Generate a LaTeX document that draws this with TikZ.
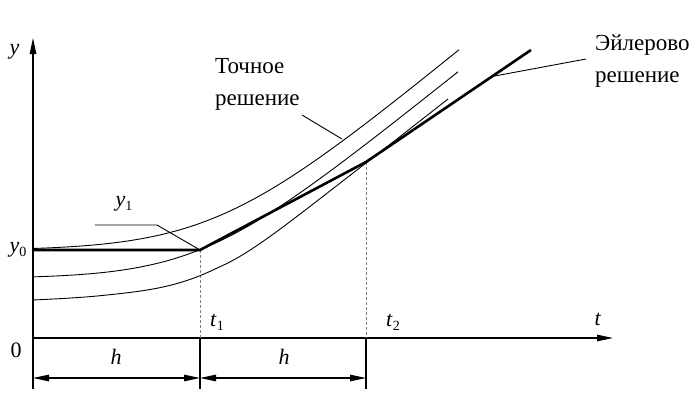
\documentclass[tikz,border=0pt]{standalone}
\usepackage{fontspec}
\setmainfont{Liberation Serif}
\usetikzlibrary{arrows.meta}
\newcommand\lowsub[1]{\raisebox{-4pt}{\fontsize{14}{14}\selectfont #1}}
\begin{document}
\begin{tikzpicture}[x=1pt,y=-1pt,
  axis/.style={line width=1.2pt},
  curve/.style={line width=0.9pt},
  euler/.style={line width=2.6pt, line join=miter},
  guide/.style={gray, line width=0.6pt, dash pattern=on 3pt off 2pt},
  leader/.style={line width=0.9pt},
  tip/.tip={Triangle[length=16pt,width=6.5pt]},
  dimline/.style={line width=1.1pt, tip-tip},
  lbl/.style={font=\fontsize{22}{26}\selectfont, inner sep=0pt},
  rus/.style={font=\fontsize{23}{28}\selectfont, inner sep=0pt, anchor=base west}]
\useasboundingbox (0,0) rectangle (697,402);
% key points
\coordinate (O) at (33,338);
\coordinate (Ybot) at (33,389);
\coordinate (Ytop) at (33,38);
\coordinate (Tend) at (613,338);
\coordinate (E0) at (33,250);
\coordinate (E1) at (200,250);
\coordinate (E2) at (366,162);
\coordinate (E3) at (531,50);
\coordinate (T1) at (200,338);
\coordinate (T2) at (366,338);
\coordinate (T1b) at (200,389);
\coordinate (T2b) at (366,389);
\coordinate (D0) at (33,378);
\coordinate (D1) at (200,378);
\coordinate (D2) at (366,378);
% axes
\draw[axis, -tip] (Ybot) -- (Ytop);
\draw[axis, -tip] (O) -- (Tend);
% guides
\draw[guide] (E1) -- (T1);
\draw[guide] (E2) -- (T2);
\draw[axis] (T1) -- (T1b);
\draw[axis] (T2) -- (T2b);
% dimension arrows
\draw[dimline] (D0) -- (D1);
\draw[dimline] (D1) -- (D2);
% exact solution curves
\draw[curve] plot[domain=33:459, samples=90, smooth] (\x, {250.5-47.56*ln(1+exp((\x-215)/58))});
\draw[curve] plot[domain=33:458, samples=90, smooth] (\x, {278.5-41.6*ln(1+exp((\x-200)/52))});
\draw[curve] plot[smooth, tension=0.6] coordinates {(33,300) (97,296) (163,287) (213,270) (265,240) (366,163) (448,99)};
% Euler polyline
\draw[euler] (E0) -- (E1) -- (E2) -- (E3);
% leaders
\coordinate (L1a) at (95,225);
\coordinate (L1b) at (157,225);
\draw[leader] (L1a) -- (L1b) -- (E1);
\coordinate (L2a) at (302,115);
\coordinate (L2b) at (342,139);
\draw[leader] (L2a) -- (L2b);
\coordinate (L3a) at (492,76.5);
\coordinate (L3b) at (586,59);
\draw[leader] (L3a) -- (L3b);
% labels
\node[lbl] (ylab) at (14.5,52) {\textit{y}};
\node[lbl] (y0lab) at (18,250) {\textit{y}\lowsub{0}};
\node[lbl] (y1lab) at (124,204) {\textit{y}\lowsub{1}};
\node[lbl] (zero) at (16,350) {0};
\node[lbl] (t1lab) at (217,322) {\textit{t}\lowsub{1}};
\node[lbl] (t2lab) at (393,322) {\textit{t}\lowsub{2}};
\node[lbl] (tlab) at (598,319) {\textit{t}};
\node[lbl] (h1) at (116,357) {\textit{h}};
\node[lbl] (h2) at (284,357) {\textit{h}};
\node[rus] (ex1) at (215,73) {Точное};
\node[rus] (ex2) at (215,105) {решение};
\node[rus] (eu1) at (595,50) {Эйлерово};
\node[rus] (eu2) at (595,82) {решение};
\end{tikzpicture}
\end{document}
